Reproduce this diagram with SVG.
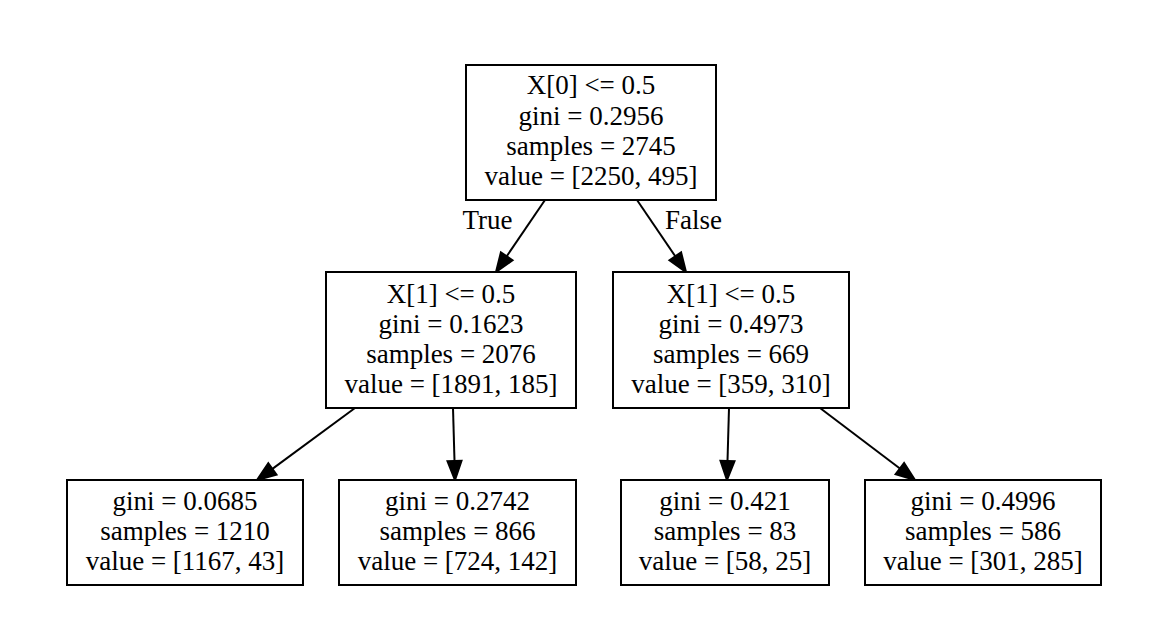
<svg xmlns="http://www.w3.org/2000/svg" width="1164" height="632" viewBox="0 0 1164 632">
<style>
.box{fill:#fff;stroke:#000;stroke-width:2}
text{font-family:"Liberation Serif","Times New Roman",serif;font-size:27px;fill:#000;text-anchor:middle}
.edge line{stroke:#000;stroke-width:2}
.edge polygon{fill:#000;stroke:#000;stroke-width:2}
</style>
<rect width="1164" height="632" fill="#fff"/>
<g id="connectors" class="edge">
<line x1="545" y1="200" x2="506.7" y2="256.3"/>
<polygon points="496,272 512.5,260.2 500.9,252.4"/>
<line x1="637" y1="200" x2="675.3" y2="256.3"/>
<polygon points="686,272 681.1,252.4 669.5,260.2"/>
<line x1="355" y1="408" x2="272.4" y2="468.9"/>
<polygon points="257,480 276.5,474.6 268.3,463.2"/>
<line x1="453" y1="408" x2="454.5" y2="461"/>
<polygon points="455,480 461.5,460.8 447.5,461.2"/>
<line x1="729" y1="408" x2="727.5" y2="461"/>
<polygon points="727,480 734.5,461.2 720.5,460.8"/>
<line x1="820" y1="408" x2="899.9" y2="468.5"/>
<polygon points="915,480 904.1,462.9 895.6,474.1"/>
<text x="487.5" y="229">True</text>
<text x="693.5" y="229">False</text>
</g>
<g id="node0">
<rect class="box" x="466" y="65" width="250" height="135"/>
<text x="591" y="94">X[0] &lt;= 0.5</text>
<text x="591" y="124.5">gini = 0.2956</text>
<text x="591" y="155">samples = 2745</text>
<text x="591" y="185">value = [2250, 495]</text>
</g>
<g id="node1">
<rect class="box" x="326" y="272" width="250" height="136"/>
<text x="451" y="302.5">X[1] &lt;= 0.5</text>
<text x="451" y="333">gini = 0.1623</text>
<text x="451" y="362.5">samples = 2076</text>
<text x="451" y="392.5">value = [1891, 185]</text>
</g>
<g id="node4">
<rect class="box" x="613" y="272" width="236" height="136"/>
<text x="731" y="302.5">X[1] &lt;= 0.5</text>
<text x="731" y="333">gini = 0.4973</text>
<text x="731" y="362.5">samples = 669</text>
<text x="731" y="392.5">value = [359, 310]</text>
</g>
<g id="node2">
<rect class="box" x="67" y="480" width="236" height="105"/>
<text x="185" y="510">gini = 0.0685</text>
<text x="185" y="540">samples = 1210</text>
<text x="185" y="570">value = [1167, 43]</text>
</g>
<g id="node3">
<rect class="box" x="339" y="480" width="237" height="105"/>
<text x="457.5" y="510">gini = 0.2742</text>
<text x="457.5" y="540">samples = 866</text>
<text x="457.5" y="570">value = [724, 142]</text>
</g>
<g id="node5">
<rect class="box" x="621" y="480" width="208" height="105"/>
<text x="725" y="510">gini = 0.421</text>
<text x="725" y="540">samples = 83</text>
<text x="725" y="570">value = [58, 25]</text>
</g>
<g id="node6">
<rect class="box" x="865" y="480" width="236" height="105"/>
<text x="983" y="510">gini = 0.4996</text>
<text x="983" y="540">samples = 586</text>
<text x="983" y="570">value = [301, 285]</text>
</g>
</svg>
